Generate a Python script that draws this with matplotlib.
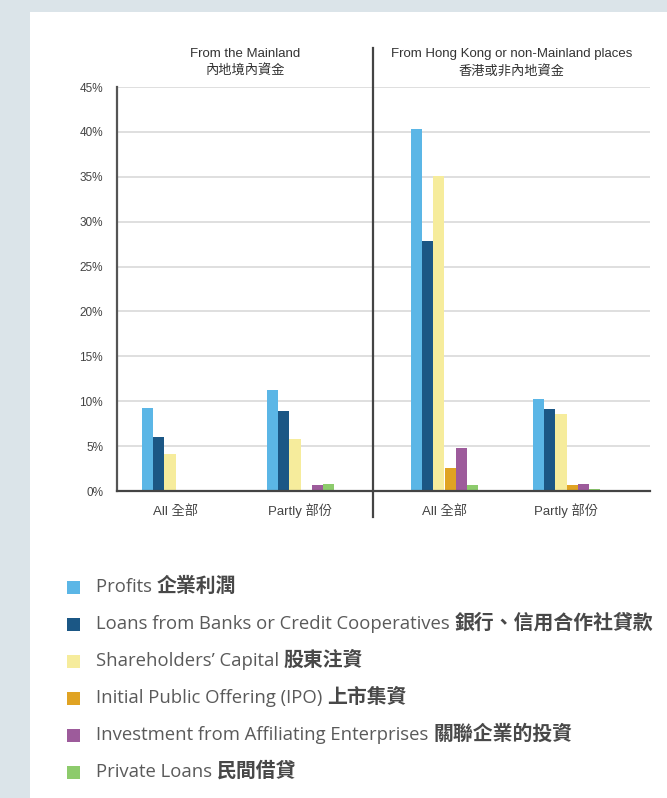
import numpy as np
import matplotlib
matplotlib.use("Agg")
import matplotlib.pyplot as plt
from matplotlib.patches import Rectangle

# data (percent)
groups = ["All 全部", "Partly 部份", "All 全部", "Partly 部份"]
series_en = [
    "Profits",
    "Loans from Banks or Credit Cooperatives",
    "Shareholders’ Capital",
    "Initial Public Offering (IPO)",
    "Investment from Affiliating Enterprises",
    "Private Loans",
]
series_zh = ["企業利潤", "銀行、信用合作社貸款", "股東注資", "上市集資", "關聯企業的投資", "民間借貸"]
profits = [9.3, 11.3, 40.3, 10.2]
bank_loans = [6.0, 8.9, 27.9, 9.1]
shareholders = [4.1, 5.8, 35.1, 8.6]
ipo = [0.0, 0.0, 2.6, 0.7]
affiliates = [0.0, 0.7, 4.8, 0.8]
private_loans = [0.0, 0.8, 0.7, 0.2]
panel_titles = ["From the Mainland\n內地境內資金",
                "From Hong Kong or non-Mainland places\n香港或非內地資金"]
yticks = np.arange(0, 46, 5)

colors = ["#5bb6e6", "#1b5785", "#f6ec9c", "#e0a323", "#9d5b9b", "#8dcb6c"]
values = [profits, bank_loans, shareholders, ipo, affiliates, private_loans]

chart_font = ["Liberation Sans", "Noto Sans CJK TC"]
legend_font = ["Open Sans", "Noto Sans CJK TC"]

W, H = 667, 798
fig = plt.figure(figsize=(W / 100, H / 100), dpi=100)
fig.patch.set_facecolor("#dbe4e9")
# white card behind everything
fig.patches.append(Rectangle((30 / W, 0), 1, 1 - 12 / H, transform=fig.transFigure,
                             facecolor="white", edgecolor="none", zorder=-10))

ax = fig.add_axes([117 / W, 1 - 491 / H, 533 / W, 404 / H])
ax.set_facecolor("none")

# layout: group centres in pixel-like units along the axis
centers = np.array([58.5, 183.5, 327.5, 449.5])
bw = 11.2
for i, (vals, c) in enumerate(zip(values, colors)):
    ax.bar(centers + (i - 2.5) * bw, vals, width=bw, color=c, zorder=3)

ax.set_xlim(0, 533)
ax.set_ylim(0, 45)
ax.set_yticks(yticks)
ax.set_yticklabels([f"{v}%" for v in yticks], family=chart_font, fontsize=8.5, color="#444")
ax.set_xticks(centers)
ax.set_xticklabels(groups, family=chart_font, fontsize=9.5, color="#444")
ax.tick_params(length=0, pad=10)
ax.tick_params(axis="x", pad=17)
for lab in ax.get_xticklabels():
    lab.set_va("baseline")
ax.grid(axis="y", color="#dcdcdc", lw=1.3, zorder=0)
for s in ["top", "right"]:
    ax.spines[s].set_visible(False)
ax.spines["left"].set_color("#555")
ax.spines["left"].set_linewidth(1.6)
ax.spines["bottom"].set_color("#444")
ax.spines["bottom"].set_linewidth(1.6)
ax.spines["bottom"].set_zorder(4)

divider = 256
ax.axvline(divider, ymin=-0.064, ymax=1.097, color="#444", lw=1.6, clip_on=False, zorder=4)

for xc, t in zip([divider / 2, (divider + 533) / 2], panel_titles):
    ax.text(xc, 1.06, t, transform=ax.get_xaxis_transform(), ha="center", va="center",
            family=chart_font, fontsize=9.5, color="#333", linespacing=1.5)

# legend: english part then chinese part
renderer = fig.canvas.get_renderer()
for i, (en, zh, c) in enumerate(zip(series_en, series_zh, colors)):
    y = 1 - (587 + i * 37) / H
    fig.patches.append(Rectangle((67 / W, y - 6.5 / H), 13 / W, 13 / H, transform=fig.transFigure,
                                 facecolor=c, edgecolor="none"))
    t = fig.text(96 / W, y, en + " ", family=legend_font, fontsize=13.3, color="#5a5a5a",
                 va="center", ha="left")
    x1 = t.get_window_extent(renderer).x1
    fig.text(x1 / W, y, zh, family=legend_font, fontsize=14.3, color="#484848", weight="semibold",
             va="center", ha="left")

fig.savefig("out.png", dpi=100)
